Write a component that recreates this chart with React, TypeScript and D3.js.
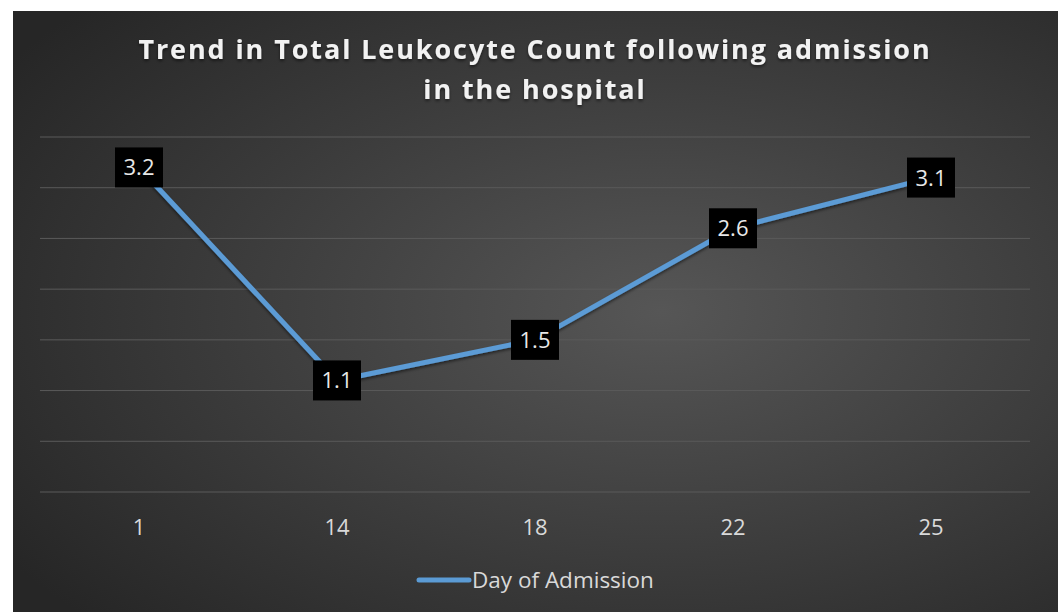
import * as d3 from "d3";
import { useEffect, useRef } from "react";

const days = ["1", "14", "18", "22", "25"];
const counts = [3.2, 1.1, 1.5, 2.6, 3.1];
const yTicks = [0, 0.5, 1, 1.5, 2, 2.5, 3, 3.5];
const seriesName = "Day of Admission";
const titleLines = ["Trend in Total Leukocyte Count following admission", "in the hospital"];

const W = 1058;
const H = 612;

export default function App() {
  const svgRef = useRef<SVGSVGElement | null>(null);

  useEffect(() => {
    if (!svgRef.current) return;
    const svg = d3.select(svgRef.current);
    svg.selectAll("*").remove();

    const defs = svg.append("defs");
    const grad = defs
      .append("radialGradient")
      .attr("id", "bg")
      .attr("cx", "62%")
      .attr("cy", "50%")
      .attr("r", "75%");
    grad.append("stop").attr("offset", "0%").attr("stop-color", "#565656");
    grad.append("stop").attr("offset", "100%").attr("stop-color", "#262626");

    const shadow = defs.append("filter").attr("id", "shadow").attr("x", "-10%").attr("y", "-10%").attr("width", "120%").attr("height", "130%");
    shadow
      .append("feDropShadow")
      .attr("dx", 0)
      .attr("dy", 2)
      .attr("stdDeviation", 1.5)
      .attr("flood-color", "#000")
      .attr("flood-opacity", 0.5);

    // chart background
    svg
      .append("rect")
      .attr("x", 13)
      .attr("y", 11)
      .attr("width", W - 13)
      .attr("height", H - 11)
      .attr("fill", "url(#bg)");

    const x = d3.scaleBand().domain(days).range([40, 1030]);
    const y = d3.scaleLinear().domain([0, 3.5]).range([492, 137]);

    // gridlines
    svg
      .append("g")
      .selectAll("line")
      .data(yTicks)
      .join("line")
      .attr("x1", 40)
      .attr("x2", 1030)
      .attr("y1", (d) => y(d))
      .attr("y2", (d) => y(d))
      .attr("stroke", "#5a5a5a")
      .attr("stroke-width", 1);

    // title
    svg
      .append("g")
      .selectAll("text")
      .data(titleLines)
      .join("text")
      .attr("x", 535)
      .attr("y", (d, i) => 59 + i * 40)
      .attr("text-anchor", "middle")
      .attr("font-family", "'Open Sans', sans-serif")
      .attr("font-weight", 700)
      .attr("font-size", 27)
      .attr("letter-spacing", 1.9)
      .attr("fill", "#f2f2f2")
      .attr("filter", "url(#shadow)")
      .text((d) => d);

    // x axis labels
    svg
      .append("g")
      .selectAll("text")
      .data(days)
      .join("text")
      .attr("x", (d) => x(d)! + x.bandwidth() / 2)
      .attr("y", 535)
      .attr("text-anchor", "middle")
      .attr("font-family", "'Open Sans', sans-serif")
      .attr("font-size", 22)
      .attr("fill", "#d9d9d9")
      .text((d) => d);

    // line
    const line = d3
      .line<number>()
      .x((d, i) => x(days[i])! + x.bandwidth() / 2)
      .y((d) => y(d));

    svg
      .append("path")
      .datum(counts)
      .attr("d", line)
      .attr("fill", "none")
      .attr("stroke", "#5b9bd5")
      .attr("stroke-width", 5)
      .attr("stroke-linejoin", "round")
      .attr("filter", "url(#shadow)");

    // data labels
    const labels = svg
      .append("g")
      .selectAll("g")
      .data(counts)
      .join("g")
      .attr("transform", (d, i) => `translate(${x(days[i])! + x.bandwidth() / 2},${y(d)})`);

    labels
      .append("rect")
      .attr("x", -24)
      .attr("y", -20)
      .attr("width", 48)
      .attr("height", 40)
      .attr("fill", "#000");

    labels
      .append("text")
      .attr("text-anchor", "middle")
      .attr("y", 8)
      .attr("font-family", "'Open Sans', sans-serif")
      .attr("font-size", 22)
      .attr("fill", "#e8e8e8")
      .text((d) => d.toFixed(1));

    // legend
    const legend = svg.append("g").attr("transform", "translate(419,580)");
    legend
      .append("line")
      .attr("x1", 0)
      .attr("x2", 50)
      .attr("stroke", "#5b9bd5")
      .attr("stroke-width", 5)
      .attr("stroke-linecap", "round");
    legend
      .append("text")
      .attr("x", 53)
      .attr("y", 8)
      .attr("font-family", "'Open Sans', sans-serif")
      .attr("font-size", 22.5)
      .attr("fill", "#d9d9d9")
      .text(seriesName);
  }, []);

  return (
    <svg
      ref={svgRef}
      width={W}
      height={H}
      style={{ position: "absolute", left: 0, top: 0, background: "#fff" }}
    />
  );
}
